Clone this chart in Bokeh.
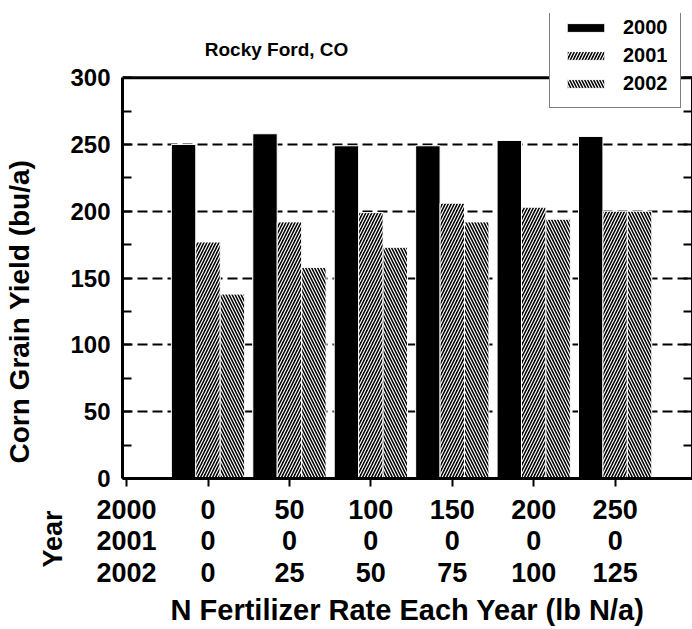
from bokeh.plotting import figure
from bokeh.models import (Range1d, FixedTicker, LinearAxis, Legend, LegendItem,
                          Label, Title, Span, ColumnDataSource)
from bokeh.transform import dodge
from bokeh.embed import file_html
from bokeh.resources import INLINE

# ---- data ----
years = ["2000", "2001", "2002"]
groups = [1, 2, 3, 4, 5, 6]
yield_2000 = [250, 258, 249, 249, 253, 256]
yield_2001 = [177, 192, 199, 206, 203, 200]
yield_2002 = [138, 158, 173, 192, 194, 200]
rate_2000 = [0, 50, 100, 150, 200, 250]
rate_2001 = [0, 0, 0, 0, 0, 0]
rate_2002 = [0, 25, 50, 75, 100, 125]
y_ticks = [0, 50, 100, 150, 200, 250, 300]
grid_ticks = [50, 100, 150, 200, 250]

FONT = "Liberation Sans"
INK = "black"

source = ColumnDataSource(dict(group=groups, y2000=yield_2000,
                               y2001=yield_2001, y2002=yield_2002))

y_top = y_ticks[-1]
p = figure(width=692, height=629, output_backend="svg", toolbar_location=None,
           x_range=Range1d(-0.05, 6.95), y_range=Range1d(0, 348),
           min_border_left=122, min_border_top=13, min_border_bottom=151,
           min_border_right=0, background_fill_color="white",
           border_fill_color="white")
p.outline_line_color = None

# frame top line at 300
p.add_layout(Span(location=y_top, dimension="width", line_color=INK,
                  line_width=3))

# title (inside the frame area so that the legend can overlap it)
p.add_layout(Label(x=0.96, y=321, text="Rocky Ford, CO",
                   text_align="left", text_baseline="alphabetic",
                   text_font=FONT, text_font_size="19px",
                   text_font_style="bold", text_color=INK))

# bars
bw = 0.3
common = dict(source=source, width=bw, line_color="white", line_width=1)
r0 = p.vbar(x=dodge("group", -bw, range=p.x_range), top="y2000",
            fill_color="black", **common)
r1 = p.vbar(x=dodge("group", 0, range=p.x_range), top="y2001",
            fill_color="black", hatch_pattern="/", hatch_color="white",
            hatch_scale=6, hatch_weight=1.2, **common)
r2 = p.vbar(x=dodge("group", bw, range=p.x_range), top="y2002",
            fill_color="black", hatch_pattern="\\", hatch_color="white",
            hatch_scale=6, hatch_weight=1.2, **common)

# grid
p.xgrid.visible = False
p.ygrid.ticker = FixedTicker(ticks=grid_ticks)
p.ygrid.grid_line_color = INK
p.ygrid.grid_line_width = 2
p.ygrid.grid_line_dash = "10 5"

# y axis
minor = [(a + b) / 2 for a, b in zip(y_ticks[:-1], y_ticks[1:])]
yt = FixedTicker(ticks=y_ticks, minor_ticks=minor)
ya = p.yaxis[0]
ya.ticker = yt
ya.bounds = (y_ticks[0], y_top)
ya.major_label_text_font = FONT
ya.major_label_text_font_size = "24px"
ya.major_label_text_font_style = "bold"
ya.major_label_text_color = INK
ya.major_label_standoff = 12
ya.major_tick_in = 9
ya.major_tick_out = 0
ya.minor_tick_in = 9
ya.minor_tick_out = 0
ya.axis_line_width = 3
ya.axis_line_color = INK
ya.major_tick_line_width = 2
ya.minor_tick_line_width = 2

ra = LinearAxis(ticker=yt, bounds=(y_ticks[0], y_top),
                major_label_text_font_size="1px",
                major_label_text_color=None,
                major_label_standoff=0, major_tick_in=9, major_tick_out=0,
                minor_tick_in=9, minor_tick_out=0, axis_line_width=3,
                major_tick_line_width=2, minor_tick_line_width=2)
p.add_layout(ra, "right")

# left-side titles: "Year" (row header) and the y-axis label
p.add_layout(Title(text="Year", align="left", offset=-89, standoff=0,
                   text_font=FONT, text_font_size="27px",
                   text_font_style="bold", text_color=INK), "left")
p.add_layout(Title(text="Corn Grain Yield (bu/a)", align="left", offset=15,
                   standoff=2, text_font=FONT, text_font_size="28px",
                   text_font_style="bold", text_color=INK), "left")

# x axis with the rate table as tick labels
overrides = {0: "\n".join(years)}
for g, a, b, c in zip(groups, rate_2000, rate_2001, rate_2002):
    overrides[g] = f"{a}\n{b}\n{c}"
xa = p.xaxis[0]
xa.ticker = FixedTicker(ticks=[0] + groups)
xa.major_label_overrides = overrides
xa.major_label_text_font = FONT
xa.major_label_text_font_size = "27px"
xa.major_label_text_font_style = "bold"
xa.major_label_text_color = INK
xa.major_label_text_line_height = 1.06
xa.major_label_standoff = 8
xa.major_tick_in = 0
xa.major_tick_out = 8
xa.major_tick_line_width = 2
xa.axis_line_width = 3
xa.axis_line_color = INK
xa.axis_label = "N Fertilizer Rate Each Year (lb N/a)"
xa.axis_label_text_font = FONT
xa.axis_label_text_font_size = "29px"
xa.axis_label_text_font_style = "bold"
xa.axis_label_text_color = INK
xa.axis_label_standoff = 3

# legend
legend = Legend(items=[LegendItem(label=years[0], renderers=[r0]),
                       LegendItem(label=years[1], renderers=[r1]),
                       LegendItem(label=years[2], renderers=[r2])],
                location=(427, 370), orientation="vertical",
                border_line_color=INK, border_line_width=1.5,
                background_fill_color="white", background_fill_alpha=1,
                label_text_font=FONT, label_text_font_size="20px",
                label_text_font_style="bold", label_text_color=INK,
                glyph_width=47, glyph_height=11, label_standoff=14,
                padding=12, spacing=5, label_height=20, margin=0)
p.add_layout(legend)

open("out.html", "w").write(file_html(p, INLINE))
